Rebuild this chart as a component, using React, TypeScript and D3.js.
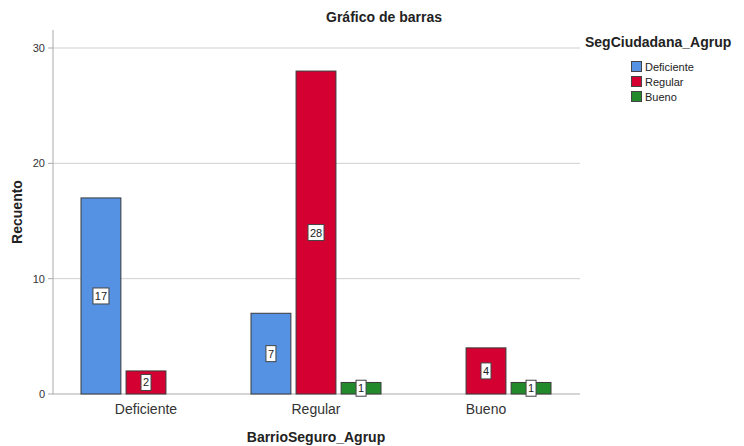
import React from "react";
import * as d3 from "d3";

const categories = ["Deficiente", "Regular", "Bueno"];
const series = ["Deficiente", "Regular", "Bueno"];
const valuesDeficiente = [17, 7, 0];
const valuesRegular = [2, 28, 4];
const valuesBueno = [0, 1, 1];
const yTicks = [0, 10, 20, 30];
const colors = ["#5592e3", "#d50032", "#238a2b"];

export default function App() {
  const W = 744, H = 446;
  const font = "'Liberation Sans', Arial, sans-serif";
  const plotLeft = 53, plotRight = 580, plotTop = 40, base = 394;
  const y = d3.scaleLinear().domain([0, 30]).range([base, 48]);
  const x = d3.scaleBand().domain(categories).range([61, 571]).padding(0);
  const inner = d3.scaleBand().domain(series).range([-65, 65]).paddingInner(0.115).paddingOuter(0);
  const allVals = [valuesDeficiente, valuesRegular, valuesBueno];

  return (
    <svg width={W} height={H} style={{ position: "absolute", left: 0, top: 0, background: "#fff" }}>
      <rect width={W} height={H} fill="#fff" />
      <text x={384} y={22} textAnchor="middle" fontFamily={font} fontWeight="bold" fontSize={14} fill="#222">Gráfico de barras</text>
      {yTicks.map((t) => (
        <g key={t}>
          {t > 0 && <line x1={plotLeft} x2={plotRight} y1={y(t)} y2={y(t)} stroke="#cfcfcf" strokeWidth={1} />}
          <line x1={plotLeft - 5} x2={plotLeft} y1={y(t)} y2={y(t)} stroke="#aaa" />
          <text x={plotLeft - 8} y={y(t) + 4} textAnchor="end" fontFamily={font} fontSize={11} fill="#333">{t}</text>
        </g>
      ))}
      <line x1={plotLeft} x2={plotLeft} y1={plotTop - 10} y2={base} stroke="#aaa" />
      <line x1={plotLeft} x2={plotRight} y1={base} y2={base} stroke="#aaa" />
      {series.map((s, si) =>
        categories.map((c, ci) => {
          const v = allVals[si][ci];
          if (!v) return null;
          const cx = (x(c) as number) + x.bandwidth() / 2;
          const bx = cx + (inner(s) as number);
          const bw = inner.bandwidth();
          const by = y(v);
          const mid = (by + base) / 2;
          const label = String(v);
          const lw = label.length * 6 + 4;
          return (
            <g key={s + c}>
              <rect x={bx} y={by} width={bw} height={base - by} fill={colors[si]} stroke="#3a3a3a" strokeWidth={1} />
              <rect x={bx + bw / 2 - lw / 2} y={mid - 8} width={lw} height={16} fill="#fff" stroke="#444" strokeWidth={1} />
              <text x={bx + bw / 2} y={mid + 4} textAnchor="middle" fontFamily={font} fontSize={11} fill="#222">{label}</text>
            </g>
          );
        })
      )}
      {categories.map((c) => (
        <text key={c} x={(x(c) as number) + x.bandwidth() / 2} y={414} textAnchor="middle" fontFamily={font} fontSize={14} fill="#333">{c}</text>
      ))}
      <text x={316} y={442} textAnchor="middle" fontFamily={font} fontWeight="bold" fontSize={14} fill="#222">BarrioSeguro_Agrup</text>
      <text transform={`translate(22,212) rotate(-90)`} textAnchor="middle" fontFamily={font} fontWeight="bold" fontSize={14} fill="#222">Recuento</text>
      <text x={585} y={47} fontFamily={font} fontWeight="bold" fontSize={14} fill="#222">SegCiudadana_Agrup</text>
      {series.map((s, i) => (
        <g key={s}>
          <rect x={631.5} y={61.5 + i * 15} width={10} height={10} fill={colors[i]} stroke="#444" />
          <text x={645} y={71 + i * 15} fontFamily={font} fontSize={11} fill="#222">{s}</text>
        </g>
      ))}
    </svg>
  );
}
